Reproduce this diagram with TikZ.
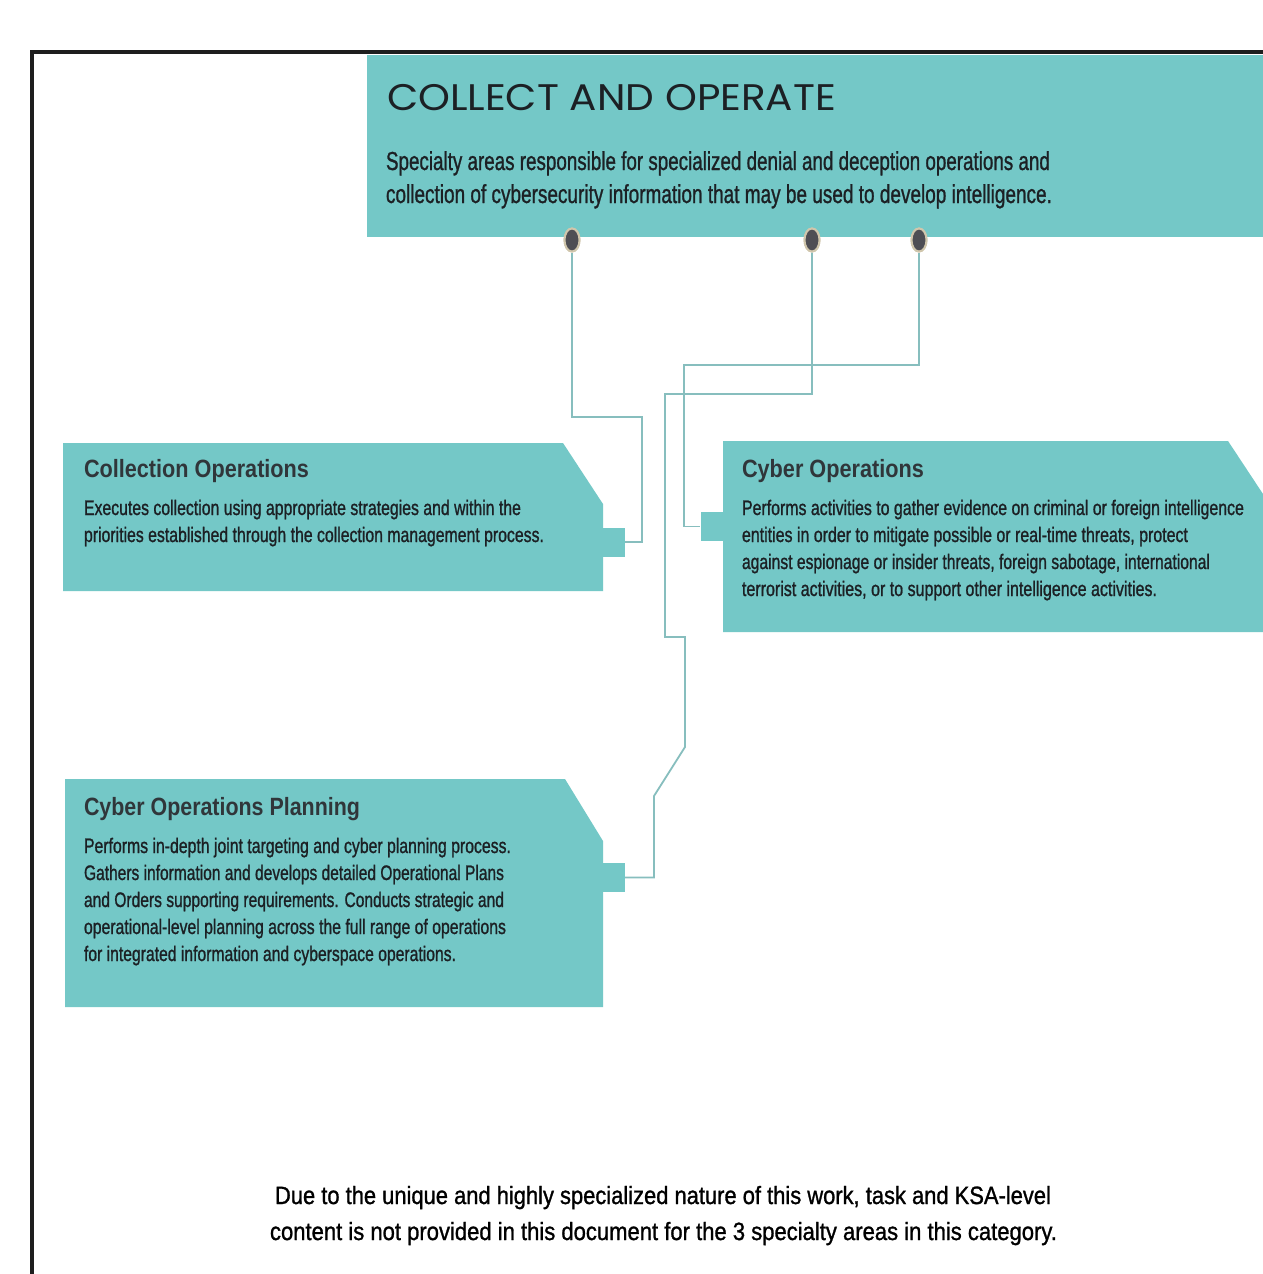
\documentclass[tikz,border=0pt]{standalone}
\usepackage{fontspec}
\usepackage{graphicx}
\setmainfont{Liberation Sans}
\newfontfamily\headfont{Poppins}
\newfontfamily\semifont[FakeBold=1.2]{Liberation Sans}
\usetikzlibrary{shapes.geometric}
\definecolor{teal1}{RGB}{116,200,199}
\definecolor{ink}{RGB}{28,32,36}
\definecolor{conn}{RGB}{135,190,190}
\definecolor{dotfill}{RGB}{78,78,84}
\definecolor{dotrim}{RGB}{208,198,172}
\newcommand{\fitline}[2]{\resizebox{#1}{\height}{#2}}
\tikzset{
  boxfill/.style={fill=teal1, draw=none},
  tabbox/.style={fill=teal1, draw=none, rectangle, inner sep=0pt, minimum width=22pt, minimum height=29pt},
  dotnode/.style={ellipse, fill=dotfill, draw=dotrim, line width=2pt, inner sep=0pt, minimum width=15pt, minimum height=23pt},
  wire/.style={draw=conn, line width=1.8pt, line join=miter},
  txt/.style={anchor=base west, inner sep=0pt, outer sep=0pt, text=ink},
  htitle/.style={txt, font=\headfont\fontsize{37}{37}\selectfont},
  hbody/.style={txt, font=\semifont\fontsize{26}{26}\selectfont},
  btitle/.style={txt, font=\fontsize{25}{25}\selectfont\bfseries, text={rgb,255:red,48;green,54;blue,58}},
  bdesc/.style={txt, font=\semifont\fontsize{21}{21}\selectfont},
  foot/.style={txt, font=\semifont\fontsize{25}{25}\selectfont, text=black},
}
\begin{document}
\begin{tikzpicture}[x=1pt,y=-1pt]
\useasboundingbox (0,0) rectangle (1263,1274);
\fill[white] (0,0) rectangle (1263,1274);
% frame
\draw[line width=4pt, draw={rgb,255:red,30;green,30;blue,30}] (32,1276) -- (32,52) -- (1265,52);
% header
\fill[boxfill] (367,55) rectangle (1263,237);
\node[htitle] (ht) at (387,110) {\fitline{449pt}{COLLECT AND OPERATE}};
\node[hbody] (hb1) at (386,170) {\fitline{664pt}{Specialty areas responsible for specialized denial and deception operations and}};
\node[hbody] (hb2) at (386,203) {\fitline{666pt}{collection of cybersecurity information that may be used to develop intelligence.}};
% boxes
\fill[boxfill] (63,443) -- (563,443) -- (603,504) -- (603,591) -- (63,591) -- cycle;
\node[tabbox] (t1) at (614,542) {};
\fill[boxfill] (723,441) -- (1228,441) -- (1263,494) -- (1263,632) -- (723,632) -- cycle;
\node[tabbox] (t2) at (711.5,526.5) {};
\fill[boxfill] (65,779) -- (565,779) -- (603,841) -- (603,1007) -- (65,1007) -- cycle;
\node[tabbox] (t3) at (614,877.5) {};
% connectors
\coordinate (a1) at (572,417); \coordinate (a2) at (642,417); \coordinate (a3) at (642,542);
\coordinate (b1) at (812,394); \coordinate (b2) at (665,394); \coordinate (b3) at (665,637);
\coordinate (b4) at (685,637); \coordinate (b5) at (685,747); \coordinate (b6) at (654,796);
\coordinate (b7) at (654,877.5);
\coordinate (c1) at (919,365); \coordinate (c2) at (684,365); \coordinate (c3) at (684,526.5);
\node[dotnode] (d1) at (572,240) {};
\node[dotnode] (d2) at (812,240) {};
\node[dotnode] (d3) at (919,240) {};
\draw[wire] (d1.south) -- (a1) -- (a2) -- (a3) -- (t1.east);
\draw[wire] (d2.south) -- (b1) -- (b2) -- (b3) -- (b4) -- (b5) -- (b6) -- (b7) -- (t3.east);
\draw[wire] (d3.south) -- (c1) -- (c2) -- (c3) -- (t2.west);
\node[dotnode] at (d1) {};
\node[dotnode] at (d2) {};
\node[dotnode] at (d3) {};
% Collection Operations
\node[btitle] (co) at (84,477) {\fitline{225pt}{Collection Operations}};
\node[bdesc] (co1) at (84,515) {\fitline{437pt}{Executes collection using appropriate strategies and within the}};
\node[bdesc] (co2) at (84,542) {\fitline{460pt}{priorities established through the collection management process.}};
% Cyber Operations
\node[btitle] (cy) at (742,477) {\fitline{182pt}{Cyber Operations}};
\node[bdesc] (cy1) at (742,515) {\fitline{502pt}{Performs activities to gather evidence on criminal or foreign intelligence}};
\node[bdesc] (cy2) at (742,542) {\fitline{446pt}{entities in order to mitigate possible or real-time threats, protect}};
\node[bdesc] (cy3) at (742,569) {\fitline{468pt}{against espionage or insider threats, foreign sabotage, international}};
\node[bdesc] (cy4) at (742,596) {\fitline{415pt}{terrorist activities, or to support other intelligence activities.}};
% Cyber Operations Planning
\node[btitle] (cp) at (84,815) {\fitline{276pt}{Cyber Operations Planning}};
\node[bdesc] (cp1) at (84,853) {\fitline{427pt}{Performs in-depth joint targeting and cyber planning process.}};
\node[bdesc] (cp2) at (84,880) {\fitline{420pt}{Gathers information and develops detailed Operational Plans}};
\node[bdesc] (cp3) at (84,907) {\fitline{420pt}{and Orders supporting requirements. Conducts strategic and}};
\node[bdesc] (cp4) at (84,934) {\fitline{422pt}{operational-level planning across the full range of operations}};
\node[bdesc] (cp5) at (84,961) {\fitline{372pt}{for integrated information and cyberspace operations.}};
% footer
\node[foot] (f1) at (275,1204) {\fitline{776pt}{Due to the unique and highly specialized nature of this work, task and KSA-level}};
\node[foot] (f2) at (270,1240) {\fitline{787pt}{content is not provided in this document for the 3 specialty areas in this category.}};
\end{tikzpicture}
\end{document}
